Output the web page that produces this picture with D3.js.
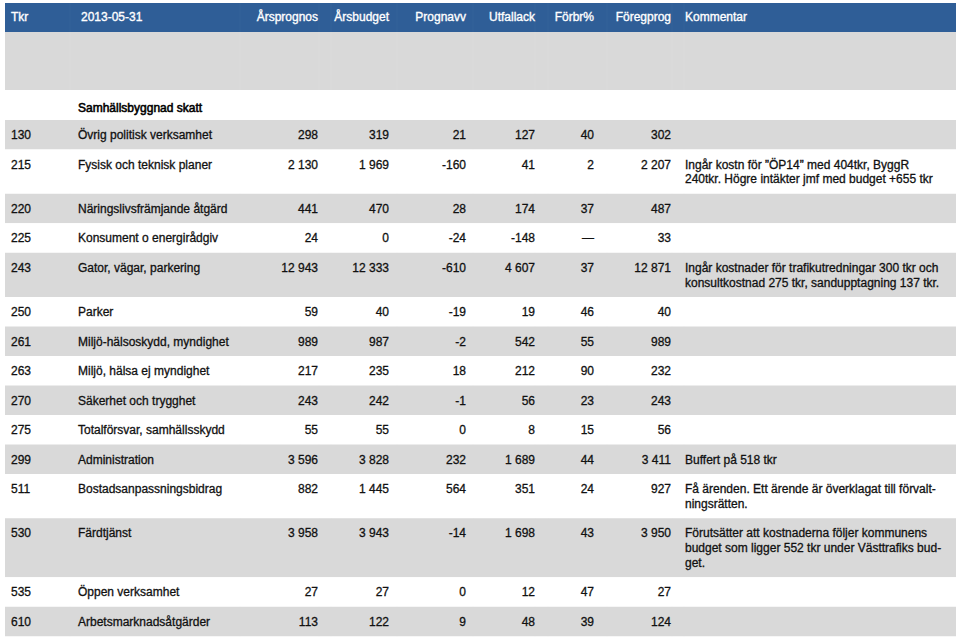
<!DOCTYPE html>
<html>
<head>
<meta charset="utf-8">
<script src="https://cdn.jsdelivr.net/npm/d3@7/dist/d3.min.js"></script>
<style>
  html, body { margin: 0; padding: 0; background: #fff; }
  svg text { font-family: "Liberation Sans", Arial, sans-serif; font-size: 12px; }
</style>
</head>
<body>
<svg id="chart" width="960" height="638"></svg>
<script>
// ---- data ----
const headers = ["Tkr", "2013-05-31", "Årsprognos", "Årsbudget", "Prognavv", "Utfallack", "Förbr%", "Föregprog", "Kommentar"];
const sectionTitle = "Samhällsbyggnad skatt";
const codes = ["130", "215", "220", "225", "243", "250", "261", "263", "270", "275", "299", "511", "530", "535", "610"];
const names = ["Övrig politisk verksamhet", "Fysisk och teknisk planer", "Näringslivsfrämjande åtgärd", "Konsument o energirådgiv", "Gator, vägar, parkering", "Parker", "Miljö-hälsoskydd, myndighet", "Miljö, hälsa ej myndighet", "Säkerhet och trygghet", "Totalförsvar, samhällsskydd", "Administration", "Bostadsanpassningsbidrag", "Färdtjänst", "Öppen verksamhet", "Arbetsmarknadsåtgärder"];
const arsprognos = [298, 2130, 441, 24, 12943, 59, 989, 217, 243, 55, 3596, 882, 3958, 27, 113];
const arsbudget  = [319, 1969, 470, 0, 12333, 40, 987, 235, 242, 55, 3828, 1445, 3943, 27, 122];
const prognavv   = [21, -160, 28, -24, -610, -19, -2, 18, -1, 0, 232, 564, -14, 0, 9];
const utfallack  = [127, 41, 174, -148, 4607, 19, 542, 212, 56, 8, 1689, 351, 1698, 12, 48];
const forbr      = [40, 2, 37, null, 37, 46, 55, 90, 23, 15, 44, 24, 43, 47, 39];
const foregprog  = [302, 2207, 487, 33, 12871, 40, 989, 232, 243, 56, 3411, 927, 3950, 27, 124];
const comments = [
  [],
  ["Ingår kostn för ”ÖP14” med 404tkr, ByggR", "240tkr. Högre intäkter jmf med budget +655 tkr"],
  [],
  [],
  ["Ingår kostnader för trafikutredningar 300 tkr och", "konsultkostnad 275 tkr, sandupptagning 137 tkr."],
  [], [], [], [], [],
  ["Buffert på 518 tkr"],
  ["Få ärenden. Ett ärende är överklagat till förvalt-", "ningsrätten."],
  ["Förutsätter att kostnaderna följer kommunens", "budget som ligger 552 tkr under Västtrafiks bud-", "get."],
  [],
  []
];

// ---- layout ----
const svg = d3.select("#chart");
const left = 5, right = 956;
const blue = "#2f5e97", gray = "#d9d9d9";
const locale = d3.formatLocale({decimal: ",", thousands: "\u00a0", grouping: [3], currency: ["", ""], minus: "-"});
const fmt = locale.format(",d");

const cols = [
  {key: "code", x: 11, anchor: "start"},
  {key: "name", x: 78, anchor: "start", hx: 81},
  {key: "arsprognos", x: 318, anchor: "end"},
  {key: "arsbudget", x: 389, anchor: "end"},
  {key: "prognavv", x: 466, anchor: "end"},
  {key: "utfallack", x: 535, anchor: "end"},
  {key: "forbr", x: 594, anchor: "end"},
  {key: "foregprog", x: 671, anchor: "end"},
  {key: "comment", x: 685, anchor: "start"}
];
const sepX = [70, 240, 319, 331, 397, 473, 535, 548, 607, 672, 684];

const rows = codes.map((c, i) => ({
  code: c, name: names[i], arsprognos: arsprognos[i], arsbudget: arsbudget[i],
  prognavv: prognavv[i], utfallack: utfallack[i], forbr: forbr[i], foregprog: foregprog[i],
  comment: comments[i], lines: Math.max(1, comments[i].length)
}));

const lineH = 14.75, pad = 14.75, bodyTop = 120;
let acc = bodyTop;
rows.forEach(r => { r.y0 = acc; r.h = pad + lineH * r.lines; acc += r.h; });
const yScale = d3.scaleOrdinal().domain(codes).range(rows.map(r => r.y0));

// header band
svg.append("rect").attr("x", left).attr("y", 3).attr("width", right - left).attr("height", 29).attr("fill", blue);
svg.append("rect").attr("x", left).attr("y", 32).attr("width", right - left).attr("height", 58).attr("fill", gray);
svg.append("g").selectAll("line").data(sepX).join("line")
  .attr("x1", d => d).attr("x2", d => d).attr("y1", 3).attr("y2", 32)
  .attr("stroke", "#4a76ab").attr("stroke-width", 0.5).attr("opacity", 0.4);
svg.append("g").selectAll("line").data(sepX).join("line")
  .attr("x1", d => d).attr("x2", d => d).attr("y1", 32).attr("y2", 90)
  .attr("stroke", "#e1e1e1").attr("stroke-width", 0.5).attr("opacity", 0.5);

svg.append("g").selectAll("text").data(headers).join("text")
  .attr("x", (d, i) => cols[i].hx || cols[i].x)
  .attr("y", 21)
  .attr("text-anchor", (d, i) => cols[i].anchor)
  .attr("fill", "#fff")
  .attr("stroke", "#fff").attr("stroke-width", 0.35)
  .text(d => d);

// section title
svg.append("text").attr("x", 78).attr("y", 112).attr("fill", "#000")
  .attr("stroke", "#000").attr("stroke-width", 0.55)
  .text(sectionTitle);

// body rows
const g = svg.append("g");
const rowG = g.selectAll("g.row").data(rows).join("g").attr("class", "row")
  .attr("transform", d => `translate(0,${yScale(d.code)})`);

rowG.append("rect")
  .attr("x", left).attr("width", right - left)
  .attr("height", d => d.h)
  .attr("fill", (d, i) => i % 2 === 0 ? gray : "#fff");

rowG.filter((d, i) => i % 2 === 0).selectAll("line.sep").data(sepX).join("line")
  .attr("class", "sep")
  .attr("x1", d => d).attr("x2", d => d).attr("y1", 0)
  .attr("y2", function() { return d3.select(this.parentNode).datum().h; })
  .attr("stroke", "#e1e1e1").attr("stroke-width", 0.5).attr("opacity", 0.45);

const cellText = (d, key) => {
  if (key === "code" || key === "name") return d[key];
  if (key === "forbr") return d.forbr === null ? "—" : fmt(d.forbr);
  return fmt(d[key]);
};

cols.filter(c => c.key !== "comment").forEach(c => {
  rowG.append("text")
    .attr("x", c.x).attr("y", 19)
    .attr("text-anchor", c.anchor)
    .attr("fill", "#111").attr("stroke", "#111").attr("stroke-width", 0.3)
    .text(d => cellText(d, c.key));
});

rowG.each(function(d) {
  d3.select(this).selectAll("text.cm").data(d.comment).join("text")
    .attr("class", "cm")
    .attr("x", 685).attr("y", (t, j) => 19 + j * lineH)
    .attr("fill", "#111").attr("stroke", "#111").attr("stroke-width", 0.3)
    .text(t => t);
});
</script>
</body>
</html>
